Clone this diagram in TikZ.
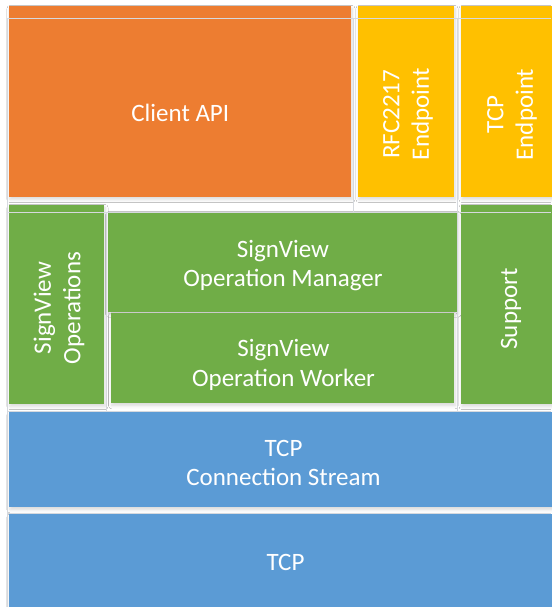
\documentclass[tikz,border=0pt]{standalone}
\usepackage{fontspec}
\setmainfont{Carlito}
\usetikzlibrary{shadows.blur}
\definecolor{apiorange}{HTML}{ED7D31}
\definecolor{endyellow}{HTML}{FFC000}
\definecolor{opgreen}{HTML}{70AD47}
\definecolor{tcpblue}{HTML}{5B9BD5}
\definecolor{gridgray}{HTML}{D6D9DE}
\newcommand*{\picright}{551}
\newcommand*{\picbottom}{607}
\newcommand*{\offright}{560}

\begin{document}
\begin{tikzpicture}[x=1pt, y=-1pt,
    layer/.style={draw=none, blur shadow={shadow xshift=1pt, shadow yshift=-2.5pt, shadow blur radius=3pt, shadow opacity=15, shadow blur steps=6}},
    lbl/.style={text=white, align=center, inner sep=0pt, font=\fontsize{25}{29.5}\selectfont},
    gridline/.style={draw=gridgray, line width=1pt}]
    \useasboundingbox [fill=white] (0,0) rectangle (\picright,\picbottom);
    % top row
    \path [layer, fill=apiorange]  (9,6)   rectangle (351,197);
    \path [layer, fill=endyellow]  (358,6) rectangle (454,197);
    \path [layer, fill=endyellow]  (461,6) rectangle (\offright,197);
    % middle row
    \path [layer, fill=opgreen]    (9,205)     rectangle (104,404);
    \path [layer, fill=opgreen]    (107.7,212) rectangle (457,311.7);
    \path [layer, fill=opgreen]    (110.7,313.3) rectangle (454,403.3);
    \path [layer, fill=opgreen]    (461,205)   rectangle (\offright,404);
    % bottom rows
    \path [layer, fill=tcpblue]    (9,412)   rectangle (\offright,507.3);
    \path [layer, fill=tcpblue]    (9,514.3) rectangle (\offright,\picbottom+10);
    % table lines
    \draw [gridline] (7.3,18.7) -- (\picright,18.7);
    \draw [gridline] (7.3,18.7) -- (7.3,\picbottom);
    \draw [gridline] (353.3,18.7) -- (353.3,212.3);
    \draw [gridline] (457.3,18.7) -- (457.3,411.7);
    \draw [gridline] (7.3,212.3) -- (\picright,212.3);
    \draw [gridline] (106.7,212.3) -- (106.7,411.7);
    \draw [gridline] (7.3,411.7) -- (\picright,411.7);
    \draw [gridline] (7.3,513.3) -- (\picright,513.3);
    % labels
    \node [lbl] (clientapi) at (180.3,113) {Client API};
    \node [lbl, rotate=90] (rfcend) at (408,114.2) {RFC2217\\Endpoint};
    \node [lbl, rotate=90] (tcpend) at (512,114.5) {TCP\\Endpoint};
    \node [lbl, rotate=90] (svops) at (59,308) {SignView\\Operations};
    \node [lbl] (svmanager) at (283,265.5) {SignView\\Operation Manager};
    \node [lbl] (svworker) at (283.5,365) {SignView\\Operation Worker};
    \node [lbl, rotate=90] (support) at (511,309) {Support};
    \node [lbl] (tcpstream) at (283.5,463) {TCP\\Connection Stream};
    \node [lbl] (tcp) at (285.5,562.5) {TCP};
\end{tikzpicture}
\end{document}
